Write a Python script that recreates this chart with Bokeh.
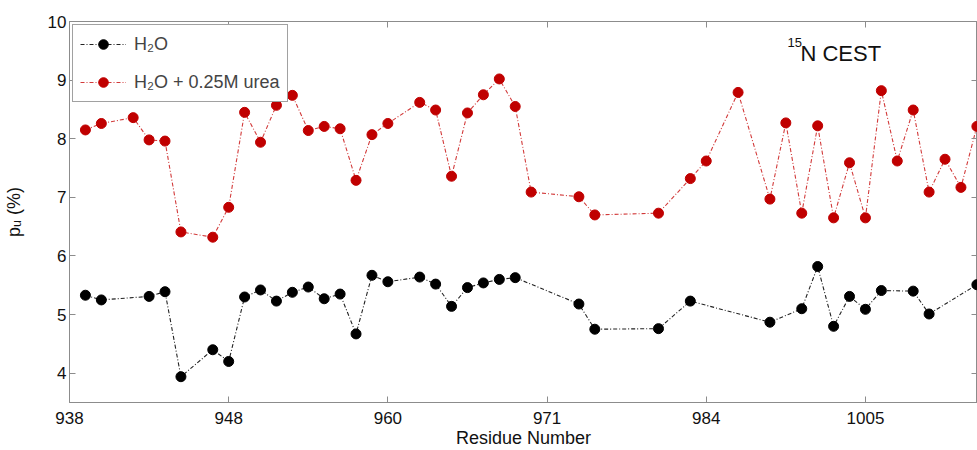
from bokeh.plotting import figure
from bokeh.models import Range1d, FixedTicker, LinearAxis, Legend, LegendItem, Label
from bokeh.embed import file_html
from bokeh.resources import INLINE

# x positions are residue index positions along the sequence axis
tick_pos = [0, 10, 20, 30, 40, 50]
tick_labels = ["938", "948", "960", "971", "984", "1005"]
y_ticks = [4, 5, 6, 7, 8, 9, 10]

h2o_pos = [1, 2, 5, 6, 7, 9, 10, 11, 12, 13, 14, 15, 16, 17, 18, 19, 20, 22, 23, 24,
           25, 26, 27, 28, 32, 33, 37, 39, 44, 46, 47, 48, 49, 50, 51, 53, 54, 57]
h2o_pu = [5.33, 5.25, 5.31, 5.39, 3.94, 4.40, 4.20, 5.30, 5.42, 5.23, 5.38, 5.47, 5.27,
          5.35, 4.67, 5.67, 5.56, 5.64, 5.52, 5.14, 5.46, 5.54, 5.60, 5.63, 5.18, 4.75,
          4.76, 5.23, 4.87, 5.10, 5.82, 4.80, 5.31, 5.09, 5.41, 5.40, 5.01, 5.51]

urea_pos = [1, 2, 4, 5, 6, 7, 9, 10, 11, 12, 13, 14, 15, 16, 17, 18, 19, 20, 22, 23,
            24, 25, 26, 27, 28, 29, 32, 33, 37, 39, 40, 42, 44, 45, 46, 47, 48, 49, 50,
            51, 52, 53, 54, 55, 56, 57]
urea_pu = [8.15, 8.26, 8.36, 7.98, 7.96, 6.41, 6.32, 6.83, 8.45, 7.94, 8.57, 8.74, 8.14,
           8.21, 8.17, 7.29, 8.07, 8.26, 8.62, 8.49, 7.36, 8.44, 8.75, 9.02, 8.55, 7.09,
           7.01, 6.70, 6.73, 7.32, 7.62, 8.79, 6.97, 8.27, 6.73, 8.22, 6.65, 7.59, 6.65,
           8.82, 7.62, 8.49, 7.09, 7.65, 7.17, 8.21]

FONT = "Liberation Sans"
GRAY = "#8c8c8c"
TXT = "#111111"

p = figure(width=977, height=450, output_backend="svg", toolbar_location=None,
           x_range=Range1d(0, 57.04), y_range=Range1d(3.5, 10),
           min_border_left=68, min_border_right=0, min_border_top=21, min_border_bottom=48)
p.background_fill_color = "white"
p.border_fill_color = "white"
p.outline_line_color = GRAY
p.outline_line_width = 1
p.grid.visible = False

for ax in (p.xaxis[0], p.yaxis[0]):
    ax.axis_line_color = GRAY
    ax.major_tick_line_color = GRAY
    ax.major_tick_in = 6
    ax.major_tick_out = 0
    ax.minor_tick_line_color = None
    ax.major_label_text_font = FONT
    ax.major_label_text_font_size = "17px"
    ax.major_label_text_color = TXT
    ax.axis_label_text_font = FONT
    ax.axis_label_text_font_size = "18px"
    ax.axis_label_text_font_style = "normal"
    ax.axis_label_text_color = TXT

p.xaxis.ticker = FixedTicker(ticks=tick_pos)
p.xaxis.major_label_overrides = {t: s for t, s in zip(tick_pos, tick_labels)}
p.xaxis.major_label_standoff = 9
p.xaxis.axis_label = "Residue Number"
p.xaxis.axis_label_standoff = 1

p.yaxis.ticker = FixedTicker(ticks=y_ticks)
p.yaxis.major_label_standoff = 3
p.yaxis.axis_label = "p\u1d64 (%)"
p.yaxis.axis_label_standoff = 21

top_ax = LinearAxis(ticker=FixedTicker(ticks=tick_pos), axis_line_color=None,
                    major_tick_line_color=GRAY, major_tick_in=6, major_tick_out=0,
                    minor_tick_line_color=None, major_label_standoff=0,
                    major_label_text_font_size="1px", major_label_text_alpha=0)
p.add_layout(top_ax, "above")
right_ax = LinearAxis(ticker=FixedTicker(ticks=y_ticks), axis_line_color=None,
                      major_tick_line_color=GRAY, major_tick_in=6, major_tick_out=0,
                      minor_tick_line_color=None, major_label_standoff=0,
                      major_label_text_font_size="1px", major_label_text_alpha=0)
p.add_layout(right_ax, "right")

l1 = p.line(h2o_pos, h2o_pu, line_color="#222222", line_dash="4 2 1 2", line_width=1.1)
s1 = p.scatter(h2o_pos, h2o_pu, size=10, fill_color="black", line_color="black")
l2 = p.line(urea_pos, urea_pu, line_color="#d23a3a", line_dash="4 2 1 2", line_width=1.1)
s2 = p.scatter(urea_pos, urea_pu, size=10, fill_color="#c00000", line_color="#c00000")

legend = Legend(items=[LegendItem(label="H\u2082O", renderers=[l1, s1]),
                       LegendItem(label="H\u2082O + 0.25M urea", renderers=[l2, s2])],
                location="top_left", margin=3, padding=7, spacing=14,
                glyph_width=46, glyph_height=24, label_height=24, label_standoff=8,
                label_text_font=FONT, label_text_font_size="18px",
                border_line_color="#444444", border_line_width=1,
                background_fill_color="white", background_fill_alpha=1)
p.add_layout(legend)

# panel title "15N CEST"
p.add_layout(Label(x=45.11, y=9.65, text="15", text_font=FONT, text_font_size="13px",
                   text_align="left", text_baseline="alphabetic", text_color=TXT))
p.add_layout(Label(x=45.92, y=9.45, text="N CEST", text_font=FONT, text_font_size="22px",
                   text_align="left", text_baseline="alphabetic", text_color=TXT))

open("out.html", "w").write(file_html(p, INLINE))
